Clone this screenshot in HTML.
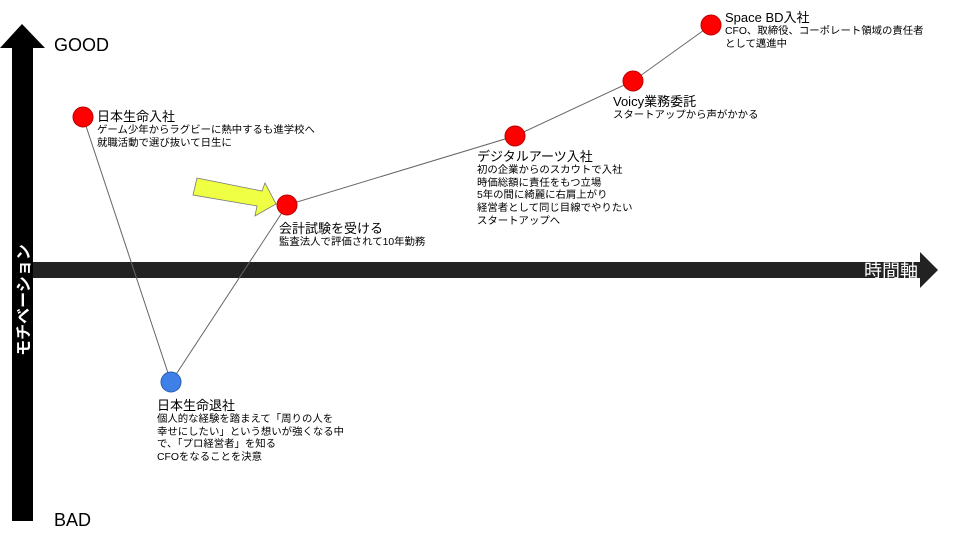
<!DOCTYPE html>
<html><head><meta charset="utf-8"><style>
body{margin:0;width:960px;height:540px;background:#fff;overflow:hidden;position:relative;font-family:"Liberation Sans","Noto Sans CJK JP",sans-serif;}
.t{position:absolute;white-space:nowrap;color:#000;}
.h{font-size:13px;line-height:16px;}
.s{font-size:10.4px;line-height:12.7px;}
</style></head><body>
<svg width="960" height="540" style="position:absolute;left:0;top:0">
<rect x="12" y="47" width="21" height="474" fill="#000"/>
<polygon points="22,24 45,48 0,48" fill="#000"/>
<rect x="33" y="262" width="888" height="16" fill="#222"/>
<polygon points="938,270 920,252 920,288" fill="#222"/>
<polyline points="83,117 171,382 287,205 515,136 633,81 711,25" fill="none" stroke="#666" stroke-width="1"/>
<polygon points="197,178 262,191 265,183 276,204 255,216 257,206 193,195" fill="#eeff44" stroke="#777" stroke-width="0.8"/>
<g stroke="#b00" stroke-width="1" fill="#f00">
<circle cx="83" cy="117" r="10"/><circle cx="287" cy="205" r="10"/><circle cx="515" cy="136" r="10"/><circle cx="633" cy="81" r="10"/><circle cx="711" cy="25" r="10"/>
</g>
<circle cx="171" cy="382" r="10" fill="#3f7fe8" stroke="#2a5fb0" stroke-width="1"/>
<text x="0" y="0" transform="translate(29,300) rotate(-90)" text-anchor="middle" fill="#fff" font-size="16" font-weight="bold" font-family="Liberation Sans, Noto Sans CJK JP, sans-serif">モチベーション</text>
<text x="864" y="277" fill="#fff" font-size="18" font-family="Liberation Sans, Noto Sans CJK JP, sans-serif">時間軸</text>
</svg>
<div class="t" style="left:54px;top:35px;font-size:18px;">GOOD</div>
<div class="t" style="left:54px;top:510px;font-size:18px;">BAD</div>
<div class="t" style="left:97px;top:109px"><div class="h">日本生命入社</div><div class="s">ゲーム少年からラグビーに熱中するも進学校へ<br>就職活動で選び抜いて日生に</div></div>
<div class="t" style="left:279px;top:221px"><div class="h">会計試験を受ける</div><div class="s">監査法人で評価されて10年勤務</div></div>
<div class="t" style="left:477px;top:149px"><div class="h">デジタルアーツ入社</div><div class="s">初の企業からのスカウトで入社<br>時価総額に責任をもつ立場<br>5年の間に綺麗に右肩上がり<br>経営者として同じ目線でやりたい<br>スタートアップへ</div></div>
<div class="t" style="left:613px;top:94px"><div class="h">Voicy業務委託</div><div class="s">スタートアップから声がかかる</div></div>
<div class="t" style="left:725px;top:10px"><div class="h">Space BD入社</div><div class="s">CFO、取締役、コーポレート領域の責任者<br>として邁進中</div></div>
<div class="t" style="left:157px;top:398px"><div class="h">日本生命退社</div><div class="s">個人的な経験を踏まえて「周りの人を<br>幸せにしたい」という想いが強くなる中<br>で、「プロ経営者」を知る<br>CFOをなることを決意</div></div>
</body></html>
